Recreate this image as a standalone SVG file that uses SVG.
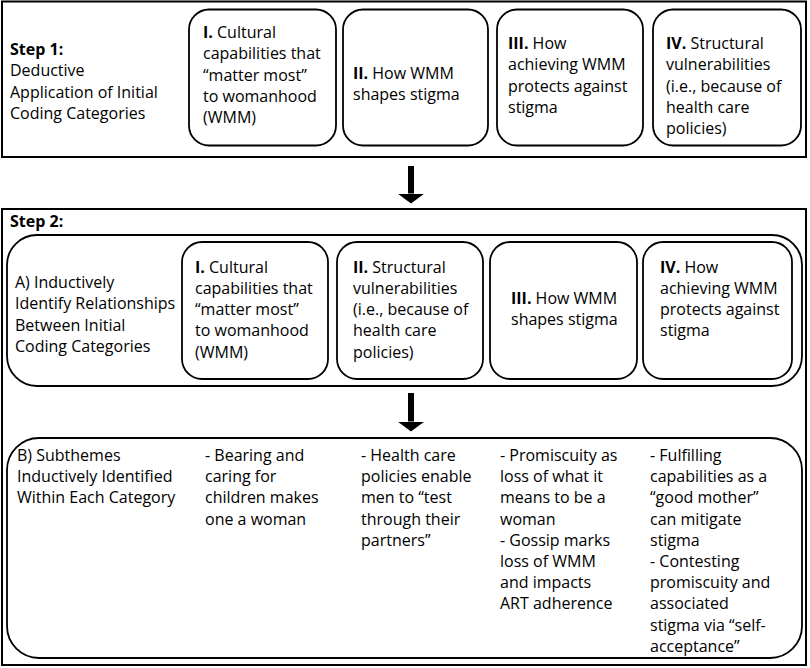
<svg xmlns="http://www.w3.org/2000/svg" width="810" height="668" viewBox="0 0 810 668">
<defs>
<style>
text{font-family:"Open Sans","Noto Sans","Liberation Sans",sans-serif;font-size:16px;fill:#000}
.b{font-weight:bold}
.frame{fill:#fff;stroke:#000;stroke-width:2}
.box{fill:#fff;stroke:#000;stroke-width:1.8}
.arrow{stroke:#000;stroke-width:6;fill:none}
</style>
<marker id="head" viewBox="0 0 10 27" refX="0" refY="13.5" markerWidth="10" markerHeight="27" markerUnits="userSpaceOnUse" orient="auto">
<path d="M0,0 L10,13.5 L0,27 Z" fill="#000"/>
</marker>
</defs>
<rect width="810" height="668" fill="#fff"/>

<g id="step1">
<rect class="frame" x="2" y="1.5" width="804" height="155.5"/>
<text x="10" y="55"><tspan class="b">Step 1:</tspan><tspan x="10" dy="21.3">Deductive</tspan><tspan x="10" dy="21.3">Application of Initial</tspan><tspan x="10" dy="21.3">Coding Categories</tspan></text>
</g>
<g id="s1-cat1">
<rect class="box" x="189" y="9.5" width="147" height="136" rx="20"/>
<text x="203" y="38"><tspan class="b">I.</tspan> Cultural<tspan x="203" dy="21.3">capabilities that</tspan><tspan x="203" dy="21.3">“matter most”</tspan><tspan x="203" dy="21.3">to womanhood</tspan><tspan x="203" dy="21.3">(WMM)</tspan></text>
</g>
<g id="s1-cat2">
<rect class="box" x="343" y="9.5" width="145" height="136" rx="20"/>
<text x="353" y="79"><tspan class="b">II.</tspan> How WMM<tspan x="353" dy="21.3">shapes stigma</tspan></text>
</g>
<g id="s1-cat3">
<rect class="box" x="497" y="9.5" width="146" height="136" rx="20"/>
<text x="508" y="49"><tspan class="b">III.</tspan> How<tspan x="508" dy="21.3">achieving WMM</tspan><tspan x="508" dy="21.3">protects against</tspan><tspan x="508" dy="21.3">stigma</tspan></text>
</g>
<g id="s1-cat4">
<rect class="box" x="653" y="9.5" width="148" height="136" rx="20"/>
<text x="666" y="49"><tspan class="b">IV.</tspan> Structural<tspan x="666" dy="21.3">vulnerabilities</tspan><tspan x="666" dy="21.3">(i.e., because of</tspan><tspan x="666" dy="21.3">health care</tspan><tspan x="666" dy="21.3">policies)</tspan></text>
</g>

<g id="step2">
<rect class="frame" x="2" y="209" width="804" height="456"/>
<text class="b" x="10" y="227">Step 2:</text>
</g>
<g id="step2a">
<rect class="box" x="7" y="235" width="795" height="151" rx="30"/>
<text x="15" y="288">A) Inductively<tspan x="15" dy="21.3">Identify Relationships</tspan><tspan x="15" dy="21.3">Between Initial</tspan><tspan x="15" dy="21.3">Coding Categories</tspan></text>
</g>
<g id="s2-cat1">
<rect class="box" x="182" y="242" width="146" height="137" rx="20"/>
<text x="195" y="272.5"><tspan class="b">I.</tspan> Cultural<tspan x="195" dy="21.3">capabilities that</tspan><tspan x="195" dy="21.3">“matter most”</tspan><tspan x="195" dy="21.3">to womanhood</tspan><tspan x="195" dy="21.3">(WMM)</tspan></text>
</g>
<g id="s2-cat2">
<rect class="box" x="337" y="242" width="146" height="137" rx="20"/>
<text x="353" y="272.5"><tspan class="b">II.</tspan> Structural<tspan x="353" dy="21.3">vulnerabilities</tspan><tspan x="353" dy="21.3">(i.e., because of</tspan><tspan x="353" dy="21.3">health care</tspan><tspan x="353" dy="21.3">policies)</tspan></text>
</g>
<g id="s2-cat3">
<rect class="box" x="490" y="242" width="147" height="137" rx="20"/>
<text x="511" y="304"><tspan class="b">III.</tspan> How WMM<tspan x="511" dy="21.3">shapes stigma</tspan></text>
</g>
<g id="s2-cat4">
<rect class="box" x="643" y="242" width="149" height="137" rx="20"/>
<text x="660" y="272.5"><tspan class="b">IV.</tspan> How<tspan x="660" dy="21.3">achieving WMM</tspan><tspan x="660" dy="21.3">protects against</tspan><tspan x="660" dy="21.3">stigma</tspan></text>
</g>

<g id="step2b">
<rect class="box" x="7" y="438" width="795" height="220" rx="32"/>
<text x="17" y="461">B) Subthemes<tspan x="17" dy="21.2">Inductively Identified</tspan><tspan x="17" dy="21.2">Within Each Category</tspan></text>
<text x="205" y="461">- Bearing and<tspan x="205" dy="21.2">caring for</tspan><tspan x="205" dy="21.2">children makes</tspan><tspan x="205" dy="21.2">one a woman</tspan></text>
<text x="361" y="461">- Health care<tspan x="361" dy="21.2">policies enable</tspan><tspan x="361" dy="21.2">men to “test</tspan><tspan x="361" dy="21.2">through their</tspan><tspan x="361" dy="21.2">partners”</tspan></text>
<text x="500" y="461">- Promiscuity as<tspan x="500" dy="21.2">loss of what it</tspan><tspan x="500" dy="21.2">means to be a</tspan><tspan x="500" dy="21.2">woman</tspan><tspan x="500" dy="21.2">- Gossip marks</tspan><tspan x="500" dy="21.2">loss of WMM</tspan><tspan x="500" dy="21.2">and impacts</tspan><tspan x="500" dy="21.2">ART adherence</tspan></text>
<text x="650" y="461">- Fulfilling<tspan x="650" dy="21.2">capabilities as a</tspan><tspan x="650" dy="21.2">“good mother”</tspan><tspan x="650" dy="21.2">can mitigate</tspan><tspan x="650" dy="21.2">stigma</tspan><tspan x="650" dy="21.2">- Contesting</tspan><tspan x="650" dy="21.2">promiscuity and</tspan><tspan x="650" dy="21.2">associated</tspan><tspan x="650" dy="21.2">stigma via “self-</tspan><tspan x="650" dy="21.2">acceptance”</tspan></text>
</g>

<g id="connectors">
<line class="arrow" x1="411" y1="166" x2="411" y2="193.5" marker-end="url(#head)"/>
<line class="arrow" x1="411" y1="393" x2="411" y2="421.5" marker-end="url(#head)"/>
</g>
</svg>
